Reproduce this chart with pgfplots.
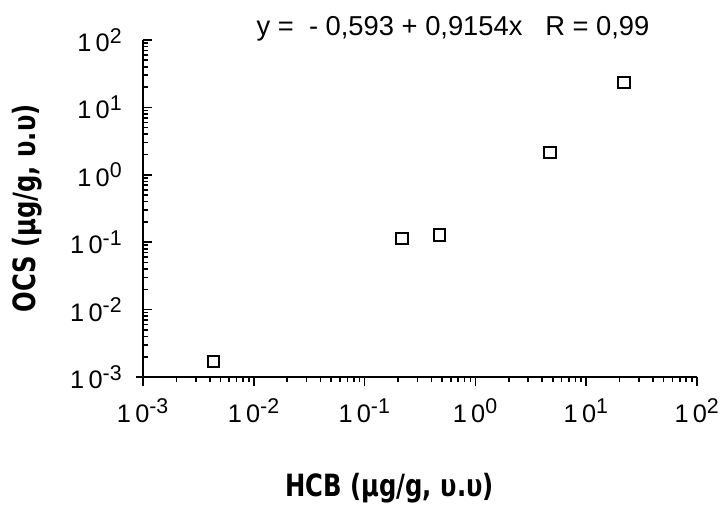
\documentclass[border=0pt]{standalone}
\usepackage{fontspec}
\setmainfont{Liberation Sans}
\newfontfamily\labelfont{DejaVu Sans Condensed}[BoldFont={DejaVu Sans Condensed Bold}, BoldFeatures={FakeStretch=0.88}]
\usepackage{pgfplots}
\pgfplotsset{compat=1.18}

\newcommand{\tl}[1]{1\,0\textsuperscript{\fontsize{16}{18}\selectfont #1}}

\begin{document}
\begin{tikzpicture}
\useasboundingbox (-107.25pt,-99pt) rectangle (435.75pt,282.75pt);
\begin{axis}[
    at={(0,0)}, anchor=south west,
    scale only axis,
    width=415.5pt, height=252.75pt,
    xmode=log, ymode=log,
    xmin=1e-3, xmax=1e2,
    ymin=1e-3, ymax=1e2,
    axis lines*=left,
    axis line style={line width=1.6pt},
    x axis line style={shorten <=-5pt},
    y axis line style={shorten <=-5pt},
    xtick align=outside,
    ytick align=inside,
    major tick length=7pt,
    minor tick length=4pt,
    every tick/.style={black, line width=1.2pt},
    xtick={1e-3,1e-2,1e-1,1e0,1e1,1e2},
    xticklabels={\tl{-3},\tl{-2},\tl{-1},\tl{0},\tl{1},\tl{2}},
    ytick={1e-3,1e-2,1e-1,1e0,1e1,1e2},
    yticklabels={\tl{-3},\tl{-2},\tl{-1},\tl{0},\tl{1},\tl{2}},
    ticklabel style={font=\fontsize{19}{21}\selectfont},
    yticklabel style={xshift=-12pt},
    xticklabel style={yshift=-6pt},
    xlabel={HCB (µg/g, υ.υ)},
    ylabel={OCS (µg/g, υ.υ)},
    label style={font=\labelfont\bfseries\fontsize{23}{26}\selectfont},
    xlabel style={at={(axis description cs:0.445,-0.33)}, anchor=center},
    ylabel style={at={(axis description cs:-0.209,0.50)}, anchor=center, rotate=0},
    clip=false,
]
\addplot[only marks, mark=square, mark size=4.2pt, line width=1.5pt, black] coordinates {
    (0.0043, 0.0017)
    (0.218, 0.115)
    (0.478, 0.128)
    (4.71, 2.13)
    (21.9, 23.2)
};
\end{axis}
\node[font=\fontsize{20.5}{22}\selectfont] at (232.5pt,261pt) {y =\ \ - 0,593 + 0,9154x\ \ \ R = 0,99};
\end{tikzpicture}
\end{document}
